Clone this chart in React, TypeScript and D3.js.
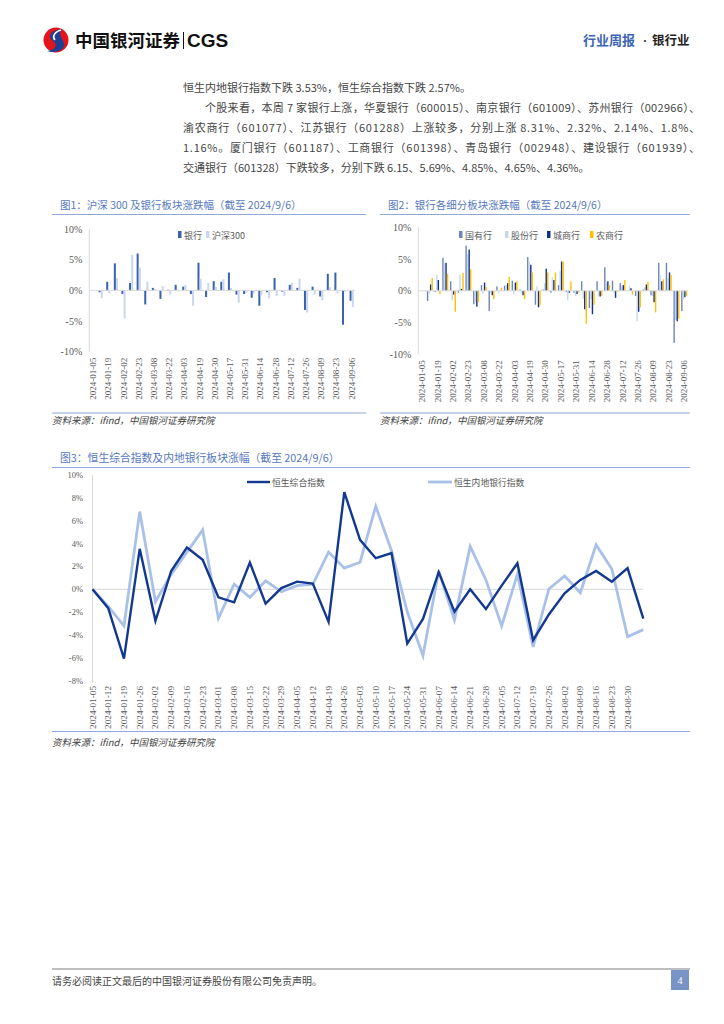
import * as d3 from 'd3';

// weekly categories for the A-share charts (fig 1, fig 2)
const weeksA = [
  '2024-01-05', '2024-01-12', '2024-01-19', '2024-01-26', '2024-02-02', '2024-02-08', '2024-02-23',
  '2024-03-01', '2024-03-08', '2024-03-15', '2024-03-22', '2024-03-29', '2024-04-03', '2024-04-12',
  '2024-04-19', '2024-04-26', '2024-04-30', '2024-05-10', '2024-05-17', '2024-05-24', '2024-05-31',
  '2024-06-07', '2024-06-14', '2024-06-21', '2024-06-28', '2024-07-05', '2024-07-12', '2024-07-19',
  '2024-07-26', '2024-08-02', '2024-08-09', '2024-08-16', '2024-08-23', '2024-08-30', '2024-09-06',
];

// fig 1: 银行 / 沪深300 weekly change (%)
const bankWeekly = [null, -0.3, 1.4, 4.4, -0.6, 1.2, 6.0, -2.3, 0.4, -1.4, 0.1, 0.9, 0.6, -0.6, 4.5, -1.1, 1.5, 1.4, 2.9, -0.7, -0.6, -1.2, -2.5, -0.3, 2.0, -0.2, 0.9, 0.4, -3.2, 0.6, -1.0, 2.7, 2.9, -5.6, -1.7];
const hs300Weekly = [null, -1.3, -0.5, 2.0, -4.6, 5.8, 3.7, 1.4, 0.2, 0.7, -0.7, -0.2, 0.9, -2.5, 1.9, 1.2, 0.6, 1.8, 0.4, -2.0, -0.4, -0.5, -0.8, -1.3, -0.9, -0.9, 1.2, 1.9, -3.6, -0.7, -1.6, 0.5, -0.5, -0.2, -2.7];

// fig 2: bank sub-sectors weekly change (%)
const bigBanks = [null, -1.6, -0.2, 5.2, 1.5, -0.3, 7.1, -2.1, 0.9, -3.2, 0.7, 0.8, 1.6, 0.2, 5.3, -2.2, 0.2, -0.3, 0.9, -0.2, -0.3, 1.5, -2.7, 1.5, 3.7, 1.6, 1.2, 0.05, -0.8, 0.2, -0.7, 4.4, 4.4, -8.2, -3.2];
const jointBanks = [null, -0.5, 2.5, 4.4, -1.5, 2.5, 5.8, -1.8, -0.5, -0.3, -0.4, 0.9, -0.6, -0.4, 4.6, 0.7, 1.2, 2.1, 3.1, -1.5, -0.8, -1.3, -1.3, -0.8, 1.4, -0.3, 0.7, 0.8, -4.8, 0.6, -0.8, 2.5, 2.0, -4.6, -1.4];
const cityBanks = [null, 1.0, 1.7, 4.4, -0.6, 0.3, 6.5, -2.5, 1.3, -0.7, 0.05, 1.2, 1.3, -0.7, 4.1, -2.6, 3.5, 1.7, 4.6, -0.3, -0.5, -2.9, -3.7, -0.9, 1.5, -1.1, 0.9, 0.4, -3.3, 1.0, -1.8, 1.5, 2.9, -4.8, -1.0];
const ruralBanks = [null, 2.0, -0.5, 2.7, -3.3, 2.8, 3.4, -1.8, 0.6, -1.3, 0.5, 2.2, 1.5, -1.3, 2.9, -2.3, 2.9, 2.9, 4.6, 1.5, -0.3, -5.2, -2.2, -0.8, 0.9, -0.2, 1.7, -0.6, -2.6, 1.4, -3.4, 1.8, 2.5, -4.4, -0.8];

// fig 3: HK weekly categories; the last one has no label on the axis
const weeksHK = [
  '2024-01-05', '2024-01-12', '2024-01-19', '2024-01-26', '2024-02-02', '2024-02-09', '2024-02-16',
  '2024-02-23', '2024-03-01', '2024-03-08', '2024-03-15', '2024-03-22', '2024-03-29', '2024-04-05',
  '2024-04-12', '2024-04-19', '2024-04-26', '2024-05-03', '2024-05-10', '2024-05-17', '2024-05-24',
  '2024-05-31', '2024-06-07', '2024-06-14', '2024-06-21', '2024-06-28', '2024-07-05', '2024-07-12',
  '2024-07-19', '2024-07-26', '2024-08-02', '2024-08-09', '2024-08-16', '2024-08-23', '2024-08-30',
  '2024-09-06',
];
const labeledHK = 35;
const hsci = [0, -1.65, -6.07, 3.54, -2.76, 1.6, 3.66, 2.58, -0.7, -1.14, 2.34, -1.26, 0.1, 0.67, 0.5, -2.85, 8.5, 4.33, 2.72, 3.16, -4.75, -2.6, 1.5, -1.97, 0, -1.73, 0.32, 2.28, -4.46, -2.2, -0.35, 0.82, 1.6, 0.67, 1.85, -2.57];
const hsMainlandBank = [0, -1.5, -3.2, 6.8, -1.09, 1.3, 3.25, 5.2, -2.55, 0.44, -0.7, 0.73, -0.2, 0.32, 0.44, 3.25, 1.85, 2.37, 7.26, 3.37, -1.97, -5.8, 1.6, -2.7, 3.75, 0.82, -3.2, 1.32, -5.05, 0.03, 1.17, -0.3, 3.9, 1.78, -4.16, -3.53];

const ticksBar = [10, 5, 0, -5, -10];
const ticksLine = [10, 8, 6, 4, 2, 0, -2, -4, -6, -8];

const CJK = '"Noto Sans CJK SC", sans-serif';
const SERIF = '"Liberation Serif", "Noto Sans CJK SC", serif';
const titleColor = '#5578bf';
const ruleColor = '#8ea9d8';
const axisGray = '#d9d9d9';
const labelGray = '#595959';

type BarSeries = { name: string; values: (number | null)[]; color: string };

const BarPanel = ({ x0, x1, yTop, yBottom, series, legendX, title, left, right }: {
  x0: number; x1: number; yTop: number; yBottom: number; series: BarSeries[]; legendX: number[];
  title: string; left: number; right: number;
}) => {
  const x = d3.scaleBand().domain(weeksA).range([x0, x1]);
  const groupW = series.length === 2 ? 4.2 : 6;
  const xs = d3.scaleBand().domain(series.map(s => s.name)).range([0, groupW]).paddingInner(0.08);
  const y = d3.scaleLinear().domain([-10, 10]).range([yBottom, yTop]);
  const off = (x.bandwidth() - groupW) / 2;
  return (
    <g>
      <text x={left + 8} y={209} fontFamily={CJK} fontSize={10.5} fill={titleColor}>{title}</text>
      <line x1={left} x2={right} y1={214.5} y2={214.5} stroke={ruleColor} strokeWidth={1.2} />
      <line x1={left} x2={right} y1={413} y2={413} stroke={ruleColor} strokeWidth={1.2} />
      <text x={left} y={424} fontFamily={CJK} fontSize={9.5} fontStyle="italic" fill="#404040">资料来源：ifind，中国银河证券研究院</text>
      <line x1={x0} x2={x0} y1={y(10)} y2={y(-10)} stroke={axisGray} />
      {ticksBar.map(t => (
        <text key={t} x={x0 - 7} y={y(t)} textAnchor="end" dominantBaseline="central"
          fontFamily={SERIF} fontSize={10} fill={labelGray}>{t}%</text>
      ))}
      {series.map(s => s.values.map((v, i) => v == null ? null : (
        <rect key={s.name + i} x={(x(weeksA[i]) ?? 0) + off + (xs(s.name) ?? 0)} width={xs.bandwidth()}
          y={Math.min(y(v), y(0))} height={Math.abs(y(v) - y(0))} fill={s.color} />
      )))}
      <line x1={x0} x2={x1} y1={y(0)} y2={y(0)} stroke={axisGray} />
      {weeksA.map((w, i) => i % 2 ? null : (
        <text key={w} transform={`translate(${(x(w) ?? 0) + x.bandwidth() / 2},${yBottom + 6}) rotate(-90)`}
          textAnchor="end" dominantBaseline="central" fontFamily={SERIF} fontSize={9} fill={labelGray}>{w}</text>
      ))}
      {series.map((s, k) => (
        <g key={s.name} transform={`translate(${legendX[k]},235)`}>
          <rect x={0} y={-4} width={3.5} height={7} fill={s.color} />
          <text x={6} y={0} dominantBaseline="central" fontFamily={CJK} fontSize={9} fill={labelGray}>{s.name}</text>
        </g>
      ))}
    </g>
  );
};

const LinePanel = () => {
  const x = d3.scalePoint().domain(weeksHK).range([92.5, 643.3]);
  const y = d3.scaleLinear().domain([-8, 10]).range([680.7, 475]);
  const line = d3.line<number>().x((_, i) => x(weeksHK[i]) ?? 0).y(v => y(v));
  const dark = '#12388f';
  const light = '#a9c1e8';
  return (
    <g>
      <text x={60} y={462} fontFamily={CJK} fontSize={10.8} fill={titleColor}>图3：恒生综合指数及内地银行板块涨幅（截至 2024/9/6）</text>
      <line x1={52} x2={690} y1={467.5} y2={467.5} stroke={ruleColor} strokeWidth={1.2} />
      <line x1={52} x2={690} y1={731.5} y2={731.5} stroke={ruleColor} strokeWidth={1.2} />
      <text x={52} y={746} fontFamily={CJK} fontSize={9.5} fontStyle="italic" fill="#404040">资料来源：ifind，中国银河证券研究院</text>
      <line x1={92.5} x2={92.5} y1={y(10)} y2={y(-8) + 2} stroke={axisGray} />
      {ticksLine.map(t => (
        <text key={t} x={83} y={y(t)} textAnchor="end" dominantBaseline="central"
          fontFamily={SERIF} fontSize={8.5} fill={labelGray}>{t}%</text>
      ))}
      <line x1={92.5} x2={643.3} y1={y(0)} y2={y(0)} stroke={axisGray} />
      <path d={line(hsMainlandBank) ?? ''} fill="none" stroke={light} strokeWidth={2.8} strokeLinejoin="miter" />
      <path d={line(hsci) ?? ''} fill="none" stroke={dark} strokeWidth={2.4} strokeLinejoin="miter" />
      {weeksHK.slice(0, labeledHK).map(w => (
        <text key={w} transform={`translate(${x(w)},${686}) rotate(-90)`} textAnchor="end" dominantBaseline="central"
          fontFamily={SERIF} fontSize={9.2} fill={labelGray}>{w}</text>
      ))}
      <line x1={247} x2={270} y1={482} y2={482} stroke={dark} strokeWidth={2.4} />
      <text x={272} y={482} dominantBaseline="central" fontFamily={CJK} fontSize={8.8} fill={labelGray}>恒生综合指数</text>
      <line x1={428} x2={452} y1={482} y2={482} stroke={light} strokeWidth={2.8} />
      <text x={454} y={482} dominantBaseline="central" fontFamily={CJK} fontSize={8.8} fill={labelGray}>恒生内地银行指数</text>
    </g>
  );
};

const paragraph = [
  { x: 183, text: '恒生内地银行指数下跌 3.53%，恒生综合指数下跌 2.57%。', justify: false },
  { x: 205, text: '个股来看，本周 7 家银行上涨，华夏银行（600015）、南京银行（601009）、苏州银行（002966）、', justify: true },
  { x: 183, text: '渝农商行（601077）、江苏银行（601288）上涨较多，分别上涨 8.31%、2.32%、2.14%、1.8%、', justify: true },
  { x: 183, text: '1.16%。厦门银行（601187）、工商银行（601398）、青岛银行（002948）、建设银行（601939）、', justify: true },
  { x: 183, text: '交通银行（601328）下跌较多，分别下跌 6.15、5.69%、4.85%、4.65%、4.36%。', justify: false },
];

export default function App() {
  return (
    <div style={{ position: 'absolute', left: 0, top: 0 }}>
      <svg width={724} height={1024} style={{ display: 'block', background: '#fff' }}>
        {/* header */}
        <g>
          <circle cx={56} cy={40} r={12.5} fill="#e4141b" />
          <path d="M62,29 C50,30 47,37 53,41 C58,44 56,50 47,51 C55,54 66,50 64,43 C62,38 58,35 62,29 Z" fill="#1d3f95" />
          <path d="M61,30 C54,32 52,37 55,40" fill="none" stroke="#fff" strokeWidth={1.6} />
          <text x={75} y={47} fontFamily={CJK} fontWeight={700} fontSize={17.5} fill="#111">中国银河证券</text>
          <line x1={183.5} x2={183.5} y1={32} y2={49} stroke="#111" strokeWidth={1} />
          <text x={187} y={47} fontFamily='"Liberation Sans", Arial, sans-serif' fontWeight={700} fontSize={19} fill="#111">CGS</text>
          <text x={583} y={45} fontFamily={CJK} fontWeight={700} fontSize={13} fill="#3c64b4">行业周报</text>
          <text x={645} y={45} textAnchor="middle" fontFamily='"Liberation Serif", serif' fontWeight={700} fontSize={13} fill="#333">·</text>
          <text x={652} y={45} fontFamily={CJK} fontWeight={700} fontSize={12.5} fill="#222">银行业</text>
        </g>

        {/* body text */}
        {paragraph.map((p, i) => (
          <text key={i} x={p.x} y={92 + i * 20} fontFamily={CJK} fontSize={11} fill="#444"
            {...(p.justify ? { textLength: 700 - p.x, lengthAdjust: 'spacing' } : {})}>{p.text}</text>
        ))}

        <BarPanel x0={89.3} x1={355.5} yTop={229} yBottom={351.7} left={52} right={366}
          title="图1：沪深 300 及银行板块涨跌幅（截至 2024/9/6）" legendX={[178, 206]}
          series={[
            { name: '银行', values: bankWeekly, color: '#3a62ae' },
            { name: '沪深300', values: hs300Weekly, color: '#c9d7ee' },
          ]} />
        <BarPanel x0={418.3} x1={688} yTop={227.3} yBottom={354.3} left={380} right={690}
          title="图2：银行各细分板块涨跌幅（截至 2024/9/6）" legendX={[459, 505, 547, 590]}
          series={[
            { name: '国有行', values: bigBanks, color: '#6f86b9' },
            { name: '股份行', values: jointBanks, color: '#c8d7ef' },
            { name: '城商行', values: cityBanks, color: '#14318a' },
            { name: '农商行', values: ruralBanks, color: '#ffc000' },
          ]} />

        <LinePanel />

        {/* footer */}
        <line x1={52} x2={690} y1={969} y2={969} stroke="#7f7f7f" strokeWidth={1} />
        <text x={52} y={985} fontFamily={CJK} fontSize={10} fill="#444">请务必阅读正文最后的中国银河证券股份有限公司免责声明。</text>
        <rect x={671} y={970} width={18} height={20} fill="#7a93c6" />
        <text x={680} y={980} textAnchor="middle" dominantBaseline="central" fontFamily={SERIF} fontSize={10} fill="#fff">4</text>
      </svg>
    </div>
  );
}
